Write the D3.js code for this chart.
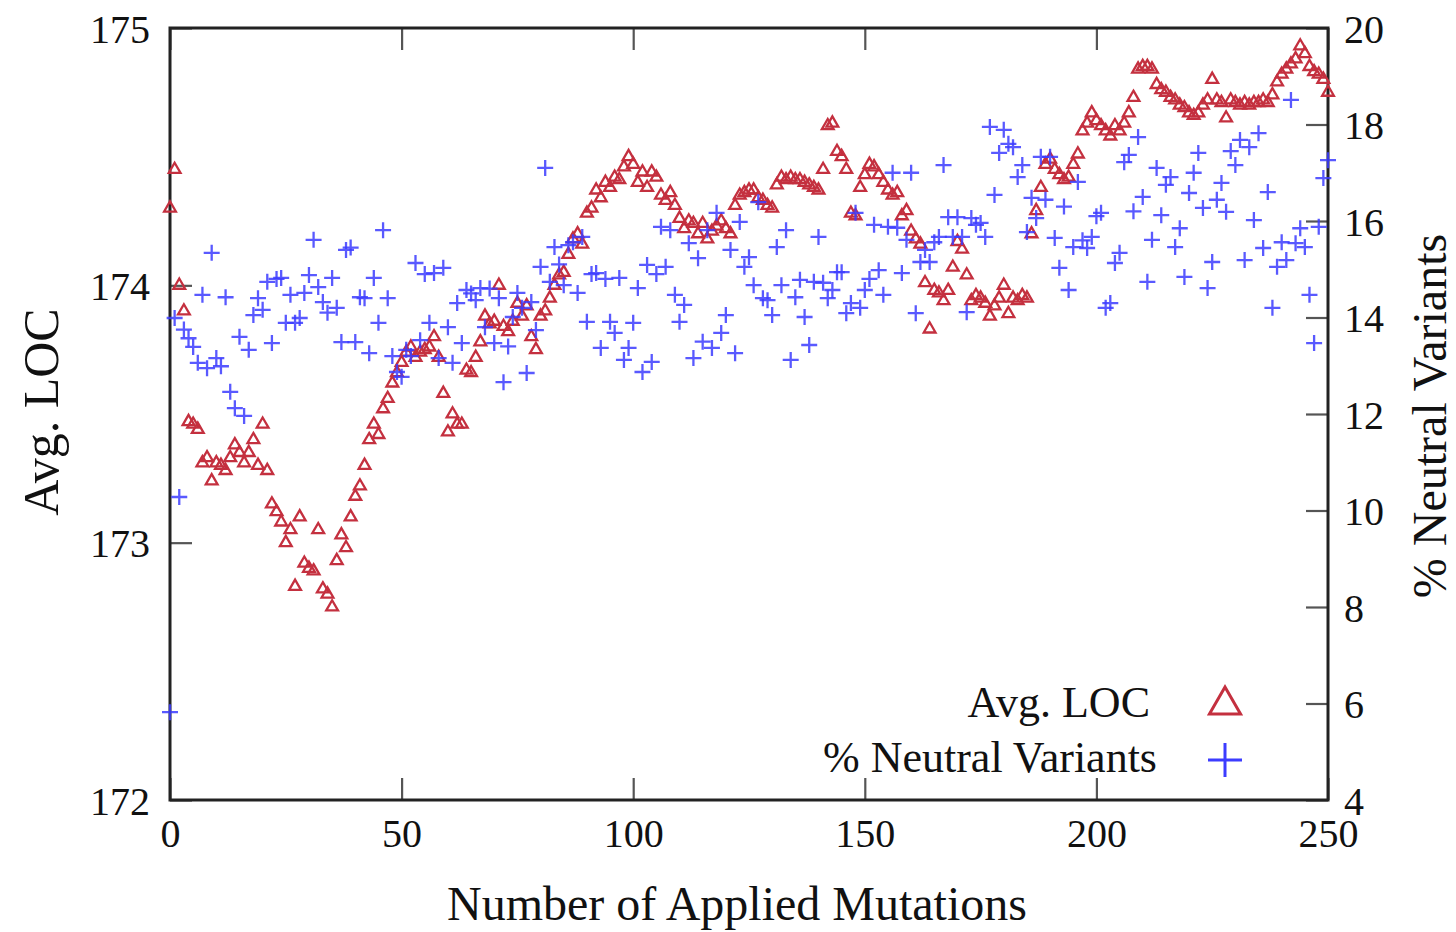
<!DOCTYPE html>
<html>
<head>
<meta charset="utf-8">
<script src="https://cdn.jsdelivr.net/npm/d3@7"></script>
<style>
  body { margin: 0; background: #fff; }
  text { font-family: "Liberation Serif", "DejaVu Serif", serif; fill: #111; }
</style>
</head>
<body>
<script>
// x: number of applied mutations, 0..250
const mutations = d3.range(0, 251);

// Avg. LOC (left axis)
const avgLoc = [
  174.30,174.45,174.00,173.90,173.47,173.46,173.44,173.31,173.33,173.24,
  173.31,173.30,173.28,173.33,173.38,173.35,173.31,173.35,173.40,173.30,
  173.46,173.28,173.15,173.12,173.08,173.00,173.05,172.83,173.10,172.92,
  172.90,172.89,173.05,172.82,172.80,172.75,172.93,173.03,172.98,173.10,
  173.18,173.22,173.30,173.40,173.46,173.42,173.52,173.56,173.62,173.66,
  173.70,173.74,173.76,173.72,173.74,173.75,173.76,173.80,173.72,173.58,
  173.43,173.50,173.46,173.46,173.67,173.66,173.72,173.78,173.88,173.85,
  173.86,174.00,173.84,173.82,173.86,173.93,173.88,173.92,173.80,173.75,
  173.88,173.90,173.95,174.00,174.04,174.05,174.12,174.18,174.20,174.16,
  174.28,174.30,174.37,174.34,174.40,174.38,174.42,174.41,174.46,174.50,
  174.47,174.40,174.44,174.38,174.44,174.42,174.35,174.33,174.36,174.31,
  174.26,174.22,174.25,174.24,174.20,174.24,174.18,174.21,174.23,174.25,
  174.22,174.20,174.31,174.35,174.36,174.37,174.37,174.34,174.33,174.31,
  174.30,174.39,174.42,174.41,174.42,174.41,174.41,174.40,174.39,174.38,
  174.37,174.45,174.62,174.63,174.52,174.50,174.45,174.28,174.27,174.38,
  174.43,174.47,174.46,174.43,174.40,174.37,174.35,174.36,174.27,174.29,
  174.21,174.18,174.16,174.01,173.83,173.98,173.97,173.94,173.98,174.07,
  174.17,174.14,174.04,173.94,173.96,173.95,173.93,173.88,173.92,173.95,
  174.00,173.89,173.95,173.94,173.96,173.95,174.20,174.29,174.38,174.47,
  174.49,174.45,174.43,174.41,174.42,174.47,174.51,174.60,174.63,174.67,
  174.64,174.62,174.60,174.58,174.62,174.60,174.63,174.67,174.73,174.84,
  174.85,174.85,174.84,174.78,174.76,174.75,174.73,174.72,174.70,174.69,
  174.67,174.66,174.67,174.70,174.72,174.80,174.72,174.71,174.65,174.72,
  174.71,174.70,174.71,174.70,174.71,174.71,174.72,174.71,174.74,174.79,
  174.82,174.84,174.86,174.88,174.93,174.90,174.85,174.83,174.82,174.80,
  174.75
];

// % Neutral Variants (right axis)
const neutralPct = [
  5.82,13.99,10.28,13.75,13.57,13.39,13.06,14.47,12.95,15.34,
  13.16,12.99,14.42,12.46,12.12,13.60,11.96,13.33,14.05,14.40,
  14.16,14.74,13.47,14.80,14.82,13.89,14.47,13.89,13.99,14.51,
  14.88,15.61,14.63,14.32,14.10,14.82,14.20,13.49,15.40,15.45,
  13.49,14.42,14.40,13.26,14.82,13.89,15.81,14.40,13.20,12.87,
  12.77,13.33,13.20,15.13,13.53,14.90,13.89,14.92,13.16,15.03,
  13.80,13.06,14.30,13.47,14.57,14.50,14.36,14.61,13.80,14.60,
  13.47,14.40,12.66,13.40,14.01,14.51,14.20,12.85,14.32,13.74,
  15.05,17.10,14.74,15.46,15.10,14.67,15.50,15.56,14.51,15.67,
  13.91,14.90,14.92,13.37,14.80,13.91,13.68,14.82,13.12,13.37,
  13.89,14.61,12.87,15.09,13.08,14.90,15.88,15.05,15.81,14.47,
  13.91,14.26,15.54,13.16,15.23,13.50,15.81,13.37,16.17,13.68,
  14.05,15.40,13.26,15.98,15.05,15.25,14.67,16.39,14.40,14.36,
  14.05,15.46,14.67,15.81,13.12,14.42,14.78,14.01,13.43,14.74,
  15.67,14.72,14.40,14.57,14.94,14.94,14.09,14.30,16.17,14.20,
  14.57,14.80,15.92,14.98,14.47,15.88,17.00,15.86,14.92,15.61,
  17.00,14.09,15.15,15.40,15.15,15.56,15.67,17.16,16.08,15.67,
  16.08,15.67,14.11,16.06,15.92,15.96,15.67,17.95,16.54,17.41,
  17.89,17.60,17.53,16.91,17.16,15.77,16.48,16.06,17.33,16.44,
  17.33,15.65,15.03,16.30,14.57,15.46,16.81,15.60,15.44,15.67,
  16.10,16.17,14.20,14.30,15.13,15.34,17.22,17.37,16.20,17.74,
  16.50,14.74,15.61,17.10,16.12,16.75,16.91,15.46,15.85,14.84,
  16.58,17.00,17.41,16.27,14.61,15.15,16.44,16.79,16.19,17.45,
  17.16,17.68,15.19,17.53,16.02,17.82,15.44,16.60,14.20,15.05,
  15.56,15.19,18.51,15.54,15.85,15.46,14.47,13.47,15.88,16.89,
  17.26
];

const xTicks = [0, 50, 100, 150, 200, 250];
const locTicks = [172, 173, 174, 175];
const pctTicks = [4, 6, 8, 10, 12, 14, 16, 18, 20];
const legendLabels = ["Avg. LOC", "% Neutral Variants"];

const W = 1456, H = 932;
const m = { left: 170, right: 1328, top: 28, bottom: 800 };
const red = "#c4303f", blue = "#3c3cff";

const x = d3.scaleLinear().domain([0, 250]).range([m.left, m.right]);
const yL = d3.scaleLinear().domain([172, 175]).range([m.bottom, m.top]);
const yR = d3.scaleLinear().domain([4, 20]).range([m.bottom, m.top]);

const svg = d3.select("body").append("svg")
  .attr("width", W).attr("height", H);

const tickLen = 22;
const fontSize = 40;

// bottom axis with inward ticks
const gx = svg.append("g").attr("transform", `translate(0,${m.bottom})`)
  .call(d3.axisBottom(x).tickValues(xTicks).tickSize(-tickLen).tickPadding(19));
// top mirrored ticks
const gxt = svg.append("g").attr("transform", `translate(0,${m.top})`)
  .call(d3.axisTop(x).tickValues(xTicks).tickSize(-tickLen).tickFormat(""));
const gyl = svg.append("g").attr("transform", `translate(${m.left},0)`)
  .call(d3.axisLeft(yL).tickValues(locTicks).tickFormat(d3.format("d"))
    .tickSize(-tickLen).tickPadding(20));
const gyr = svg.append("g").attr("transform", `translate(${m.right},0)`)
  .call(d3.axisRight(yR).tickValues(pctTicks).tickSize(-tickLen).tickPadding(16));

[gx, gxt, gyl, gyr].forEach(g => {
  g.select(".domain").remove();
  g.selectAll(".tick line").attr("stroke", "#555").attr("stroke-width", 2.2);
  g.selectAll(".tick text")
    .attr("font-family", "Liberation Serif").attr("font-size", fontSize).attr("fill", "#111");
});
gyl.selectAll(".tick text").attr("dy", "0.35em");
gyr.selectAll(".tick text").attr("dy", "0.35em");

// frame
svg.append("rect")
  .attr("x", m.left).attr("y", m.top)
  .attr("width", m.right - m.left).attr("height", m.bottom - m.top)
  .attr("fill", "none").attr("stroke", "#222").attr("stroke-width", 3);

// markers
const tri = d3.symbol().type(d3.symbolTriangle).size(60);
const plus = (cx, cy, r) => `M${cx - r},${cy}H${cx + r}M${cx},${cy - r}V${cy + r}`;

svg.append("g").selectAll("path")
  .data(mutations)
  .join("path")
  .attr("d", tri)
  .attr("transform", d => `translate(${x(d)},${yL(avgLoc[d])})`)
  .attr("fill", "none").attr("stroke", red).attr("stroke-width", 2.3);

svg.append("g").selectAll("path")
  .data(mutations)
  .join("path")
  .attr("d", d => plus(x(d), yR(neutralPct[d]), 8))
  .attr("fill", "none").attr("stroke", blue).attr("stroke-width", 2.3).attr("opacity", 0.85);

// axis titles
svg.append("text")
  .attr("x", (m.left + m.right) / 2 - 12).attr("y", 920)
  .attr("text-anchor", "middle").attr("font-size", 48)
  .text("Number of Applied Mutations");

svg.append("text")
  .attr("transform", `translate(58,${(m.top + m.bottom) / 2 - 2}) rotate(-90)`)
  .attr("text-anchor", "middle").attr("font-size", 50)
  .text("Avg. LOC");

svg.append("text")
  .attr("transform", `translate(1446,${(m.top + m.bottom) / 2 + 2}) rotate(-90)`)
  .attr("text-anchor", "middle").attr("font-size", 48)
  .text("% Neutral Variants");

// legend
const legY = [702, 757];
svg.append("g").selectAll("text")
  .data(legendLabels)
  .join("text")
  .attr("x", (d, i) => i === 0 ? 1150 : 1157)
  .attr("y", (d, i) => legY[i])
  .attr("dy", "0.35em")
  .attr("text-anchor", "end").attr("font-size", 44)
  .text(d => d);

svg.append("path")
  .attr("d", d3.symbol().type(d3.symbolTriangle).size(420))
  .attr("transform", `translate(1225,${legY[0] + 3})`)
  .attr("fill", "none").attr("stroke", red).attr("stroke-width", 3);

svg.append("path")
  .attr("d", plus(1225, legY[1] + 3, 17))
  .attr("fill", "none").attr("stroke", blue).attr("stroke-width", 3);
</script>
</body>
</html>
